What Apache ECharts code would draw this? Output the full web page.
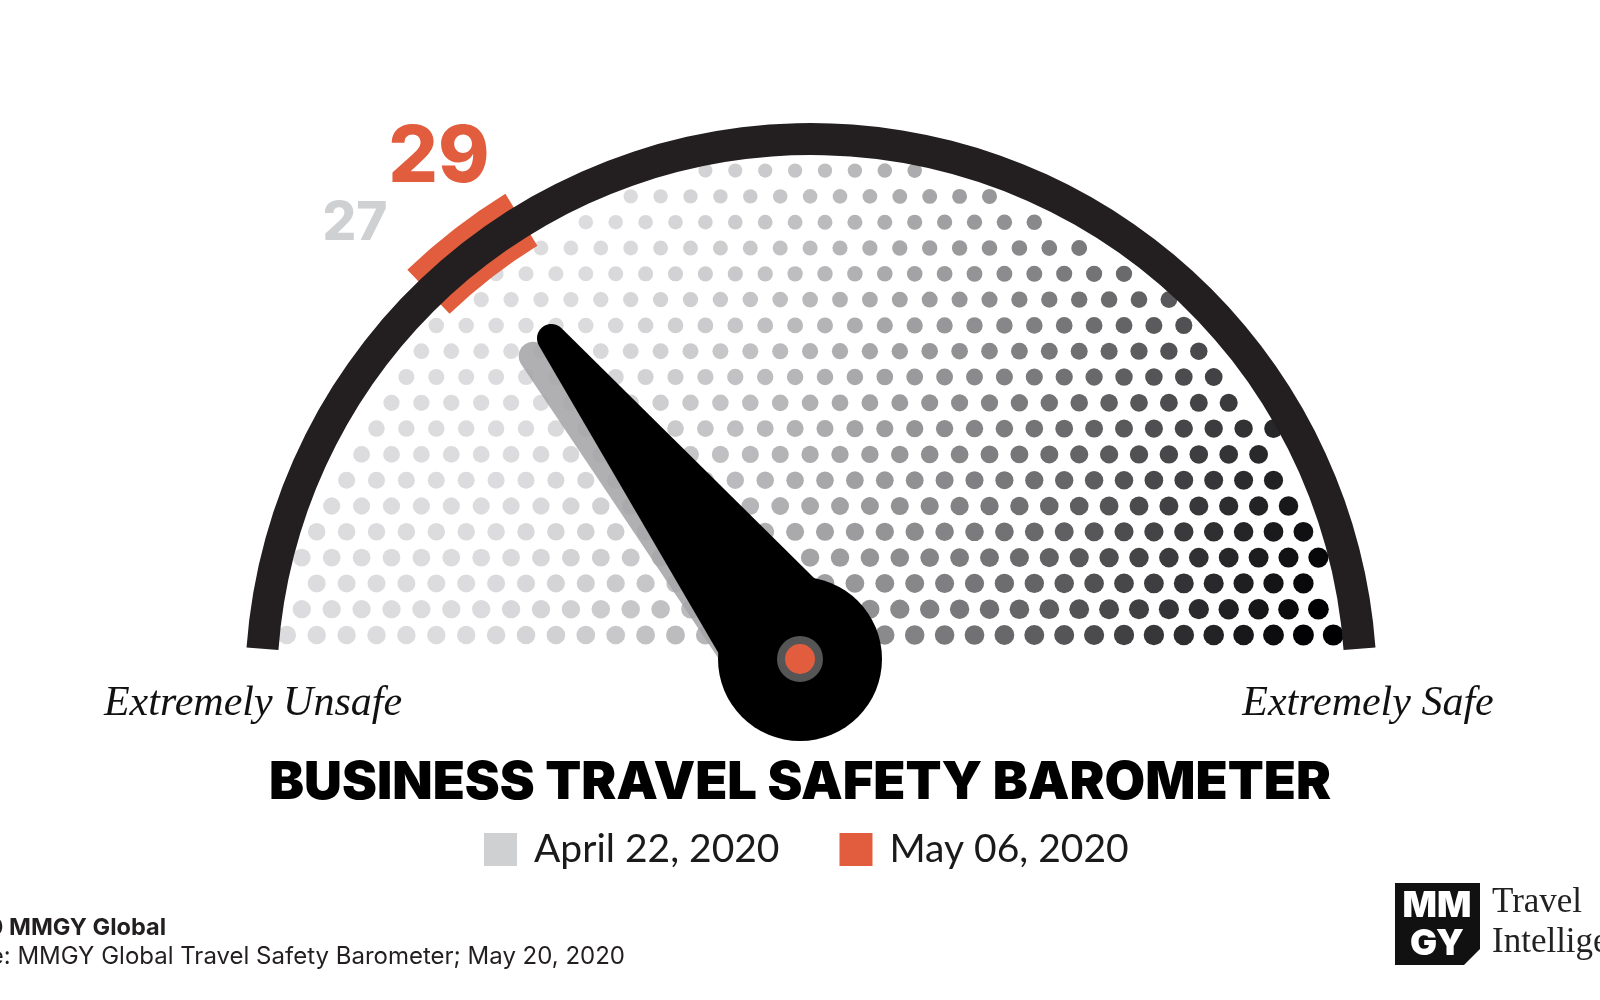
<!DOCTYPE html>
<html><head><meta charset="utf-8">
<script src="https://cdn.jsdelivr.net/npm/echarts@6/dist/echarts.min.js"></script>
<style>html,body{margin:0;padding:0;background:#fff}#c{width:1600px;height:1000px}</style>
</head><body><div id="c"></div>
<script>
// ---- data ----
const scaleMin = 0;
const scaleMax = 100;
const seriesNames = ['April 22, 2020', 'May 06, 2020'];
const seriesValues = [27, 29];
const endLabels = ['Extremely Unsafe', 'Extremely Safe'];
const chartTitle = 'BUSINESS TRAVEL SAFETY BAROMETER';
const footerLines = ['\u00a9 2020 MMGY Global', 'Source: MMGY Global Travel Safety Barometer; May 20, 2020'];

// ---- styles ----
const RED = '#e25d3d';
const LIGHT = '#cfd0d2';
const ARC_C = [811, 689];
const PIVOT = [800, 659];

// decorative halftone texture (not data)
const dots = [];
for (let i = 0; i < 20; i++) {
  const y = 635 - i * 25.8;
  for (let x = 227 + (i % 2 ? 15 : 0); x < 1420; x += 29.9) {
    const dx = x - ARC_C[0], dy = y - ARC_C[1];
    if (Math.hypot(dx, dy) > 531) continue;
    const u = x - 0.35 * (635 - y);
    const t = Math.min(1, Math.max(0, (u - 450) / 860));
    const g = Math.round(220 * (1 - Math.pow(t, 1.45)));
    const s = 14 + 4.5 * (y - 170) / 465 + 2.5 * (1 - g / 220);
    dots.push([x, y, s, g]);
  }
}

function labelOffset(v, r, nudge) {
  const a = (180 - (v - scaleMin) / (scaleMax - scaleMin) * 180) * Math.PI / 180;
  return [r * Math.cos(a) + nudge[0], -r * Math.sin(a) + nudge[1]];
}
const NEEDLE = 'path://M0 400 L39.5 12 C41.5 -4 58.5 -4 60.5 12 L100 400 Z';
const hidden = {
  axisLine: { show: false }, splitLine: { show: false }, axisTick: { show: false },
  axisLabel: { show: false }, title: { show: false }
};
const mv = seriesValues[1];

const chart = echarts.init(document.getElementById('c'), null, { renderer: 'canvas' });
chart.setOption({
  animation: false,
  backgroundColor: '#fff',
  grid: { left: 0, right: 0, top: 0, bottom: 0 },
  xAxis: { type: 'value', min: 0, max: 1600, show: false },
  yAxis: { type: 'value', min: 0, max: 1000, inverse: true, show: false },
  title: {
    text: chartTitle, left: 'center', top: 752,
    textStyle: { fontSize: 52.5, fontWeight: 900, fontFamily: 'Inter', color: '#000' }
  },
  legend: {
    left: 479, top: 825, icon: 'rect', itemWidth: 33, itemHeight: 33, itemGap: 60,
    selectedMode: false,
    textStyle: { fontSize: 39, fontFamily: 'Lato', color: '#1a1a1a', padding: [0, 0, 0, 12] },
    data: [
      { name: seriesNames[0], itemStyle: { color: LIGHT } },
      { name: seriesNames[1], itemStyle: { color: RED } }
    ]
  },
  series: [
    {
      type: 'scatter', z: 1, silent: true,
      data: dots,
      symbolSize: v => v[2],
      itemStyle: { opacity: 1, color: p => { const g = p.data[3]; return 'rgb(' + g + ',' + g + ',' + Math.min(255, g + 2) + ')'; } }
    },
    Object.assign({}, hidden, {
      type: 'gauge', z: 2, silent: true, center: ARC_C, radius: 582, startAngle: 180, endAngle: 0,
      min: scaleMin, max: scaleMax,
      axisLine: { show: true, lineStyle: { width: 61, color: [[(mv - 3.4) / 100, 'rgba(0,0,0,0)'], [(mv + 3.4) / 100, RED], [1, 'rgba(0,0,0,0)']] } },
      pointer: { show: false }, detail: { show: false }, data: []
    }),
    Object.assign({}, hidden, {
      type: 'gauge', z: 3, silent: true, center: ARC_C, radius: 566, startAngle: 175.8, endAngle: 4.2,
      min: scaleMin, max: scaleMax,
      axisLine: { show: true, lineStyle: { width: 32, color: [[1, '#231f20']] } },
      pointer: { show: false }, detail: { show: false }, data: []
    }),
    Object.assign({}, hidden, {
      name: seriesNames[0], type: 'gauge', z: 4, center: PIVOT, radius: 420, startAngle: 180, endAngle: 0,
      min: scaleMin, max: scaleMax,
      pointer: { show: true, icon: NEEDLE, length: 418, width: 136 },
      itemStyle: { color: 'rgba(165,165,167,0.88)' },
      anchor: { show: false },
      detail: {
        show: true, offsetCenter: labelOffset(seriesValues[0], 620, [-35, 30]), formatter: '{value}',
        fontSize: 53, fontWeight: 800, fontFamily: 'Inter', color: LIGHT
      },
      data: [{ value: seriesValues[0], name: seriesNames[0] }]
    }),
    Object.assign({}, hidden, {
      name: seriesNames[1], type: 'gauge', z: 5, center: PIVOT, radius: 420, startAngle: 180, endAngle: 0,
      min: scaleMin, max: scaleMax,
      pointer: { show: true, icon: NEEDLE, length: 420, width: 136 },
      itemStyle: { color: '#000' },
      anchor: { show: true, showAbove: true, size: 164, itemStyle: { color: '#000' } },
      detail: {
        show: true, offsetCenter: labelOffset(seriesValues[1], 620, [19, -11]), formatter: '{value}',
        fontSize: 78, fontWeight: 800, fontFamily: 'Inter', color: RED
      },
      data: [{ value: seriesValues[1], name: seriesNames[1] }]
    }),
    Object.assign({}, hidden, {
      type: 'gauge', z: 6, silent: true, center: PIVOT, radius: 420, startAngle: 180, endAngle: 0,
      min: scaleMin, max: scaleMax,
      pointer: { show: false }, detail: { show: false },
      anchor: { show: true, showAbove: true, size: 38, itemStyle: { color: RED, borderColor: '#555', borderWidth: 8 } },
      data: [{ value: mv }]
    })
  ],
  graphic: [
    { type: 'text', x: 253, y: 704, style: { text: endLabels[0], fill: '#111', font: 'italic 42px "Liberation Serif"', textAlign: 'center', textVerticalAlign: 'middle' } },
    { type: 'text', x: 1368, y: 704, style: { text: endLabels[1], fill: '#111', font: 'italic 42px "Liberation Serif"', textAlign: 'center', textVerticalAlign: 'middle' } },
    { type: 'text', x: 166, y: 928, style: { text: footerLines[0], fill: '#231f20', font: '700 23.5px Inter', textAlign: 'right', textVerticalAlign: 'middle' } },
    { type: 'text', x: 625, y: 957, style: { text: footerLines[1], fill: '#231f20', font: '400 24px Inter', textAlign: 'right', textVerticalAlign: 'middle' } },
    { type: 'polygon', shape: { points: [[1395, 883], [1480, 883], [1480, 949], [1464, 965], [1395, 965]] }, style: { fill: '#111' } },
    { type: 'text', x: 1437, y: 906, style: { text: 'MM', fill: '#fff', font: '900 36px Inter', textAlign: 'center', textVerticalAlign: 'middle' } },
    { type: 'text', x: 1437, y: 944, style: { text: 'GY', fill: '#fff', font: '900 36px Inter', textAlign: 'center', textVerticalAlign: 'middle' } },
    { type: 'text', x: 1492, y: 903, style: { text: 'Travel', fill: '#222', font: '35px "Liberation Serif"', textAlign: 'left', textVerticalAlign: 'middle' } },
    { type: 'text', x: 1492, y: 943, style: { text: 'Intelligence', fill: '#222', font: '35px "Liberation Serif"', textAlign: 'left', textVerticalAlign: 'middle' } }
  ]
});
</script>
</body></html>
